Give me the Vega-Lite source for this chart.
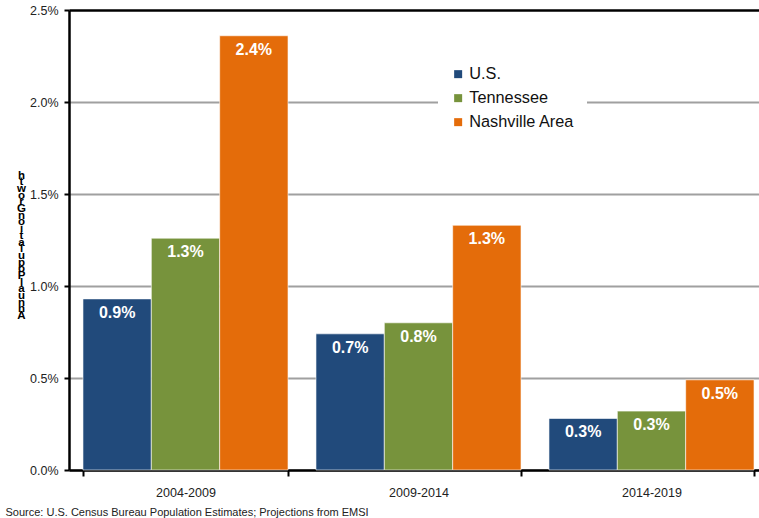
{
  "$schema": "https://vega.github.io/schema/vega-lite/v6.json",
  "autosize": "none",
  "width": 690,
  "height": 460,
  "padding": {"left": 69, "top": 10, "right": 0, "bottom": 48},
  "background": "white",
  "config": {
    "font": "Liberation Sans",
    "view": {"stroke": null}
  },
  "data": {
    "values": [
      {"period": "2004-2009", "region": "U.S.", "growth": 0.0093},
      {"period": "2004-2009", "region": "Tennessee", "growth": 0.0126},
      {"period": "2004-2009", "region": "Nashville Area", "growth": 0.0236},
      {"period": "2009-2014", "region": "U.S.", "growth": 0.0074},
      {"period": "2009-2014", "region": "Tennessee", "growth": 0.0080},
      {"period": "2009-2014", "region": "Nashville Area", "growth": 0.0133},
      {"period": "2014-2019", "region": "U.S.", "growth": 0.0028},
      {"period": "2014-2019", "region": "Tennessee", "growth": 0.0032},
      {"period": "2014-2019", "region": "Nashville Area", "growth": 0.0049}
    ]
  },
  "encoding": {
    "x": {
      "field": "period",
      "type": "nominal",
      "sort": null,
      "scale": {"range": [0, 699], "paddingInner": 0.12, "paddingOuter": 0.06},
      "axis": {
        "title": "Source: U.S. Census Bureau Population Estimates; Projections from EMSI",
        "titleX": -64,
        "titleY": 42,
        "titleAlign": "left",
        "titleAnchor": null,
        "titleBaseline": "middle",
        "titleFontSize": 11,
        "titleFontWeight": "normal",
        "titleColor": "#222222",
        "labelAngle": 0,
        "labelFontSize": 12.5,
        "labelColor": "#222222",
        "labelPadding": 10,
        "labelBaseline": "top",
        "tickBand": "extent",
        "tickSize": 6,
        "tickColor": "black",
        "tickWidth": 2,
        "domainColor": "black",
        "domainWidth": 2.5,
        "grid": false
      }
    },
    "xOffset": {"field": "region", "type": "nominal", "sort": ["U.S.", "Tennessee", "Nashville Area"], "scale": {"paddingInner": 0, "paddingOuter": 0}},
    "y": {
      "field": "growth",
      "type": "quantitative",
      "scale": {"domain": [0, 0.025], "nice": false},
      "axis": {
        "values": [0, 0.005, 0.01, 0.015, 0.02, 0.025],
        "format": ".1%",
        "labelFontSize": 12.5,
        "labelColor": "#222222",
        "labelPadding": 6,
        "tickSize": 5,
        "tickColor": "black",
        "tickWidth": 2,
        "domainColor": "black",
        "domainWidth": 2.5,
        "grid": true,
        "gridColor": {"condition": {"test": "datum.value >= 0.025", "value": "black"}, "value": "#a0a0a0"},
        "gridWidth": {"condition": {"test": "datum.value >= 0.025", "value": 2.5}, "value": 2},
        "title": ["h","t","w","o","r","G","n","o","i","t","a","l","u","p","o","P","l","a","u","n","n","A"],
        "titleAngle": 0,
        "titleX": -48,
        "titleY": 159,
        "titleAlign": "center",
        "titleBaseline": "top",
        "titleFontSize": 11.5,
        "titleFontWeight": "bold",
        "titleLineHeight": 6.7,
        "titleColor": "black"
      }
    }
  },
  "layer": [
    {
      "mark": {"type": "bar", "stroke": "white", "strokeWidth": 0.6},
      "encoding": {
        "color": {
          "field": "region",
          "type": "nominal",
          "sort": ["U.S.", "Tennessee", "Nashville Area"],
          "scale": {"domain": ["U.S.", "Tennessee", "Nashville Area"], "range": ["#214a7b", "#77933c", "#e46c0a"]},
          "legend": {
            "title": null,
            "orient": "none",
            "legendX": 369,
            "legendY": 44,
            "fillColor": "white",
            "padding": 12,
            "symbolType": "square",
            "symbolSize": 64,
            "symbolStrokeWidth": 0,
            "labelFontSize": 16.3,
            "labelColor": "#111111",
            "labelOffset": 3,
            "rowPadding": 7,
            "labelLimit": 200
          }
        }
      }
    },
    {
      "mark": {"type": "text", "baseline": "top", "dy": 6, "fontSize": 16, "fontWeight": "bold", "color": "white"},
      "encoding": {
        "text": {"field": "growth", "type": "quantitative", "format": ".1%"}
      }
    }
  ]
}
